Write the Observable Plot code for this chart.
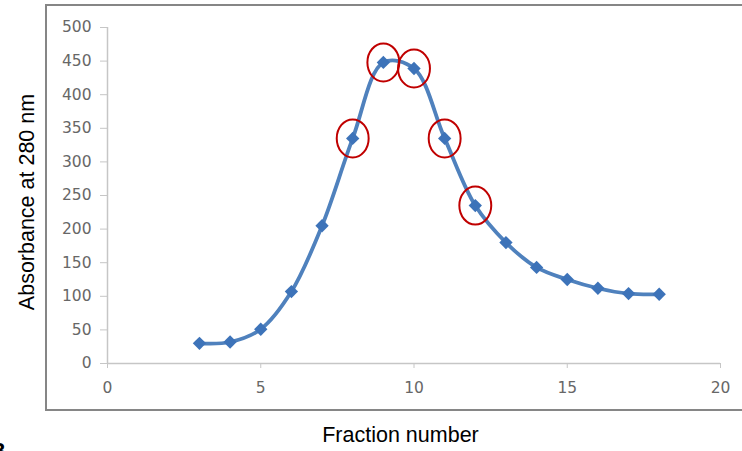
<!DOCTYPE html>
<html><head><meta charset="utf-8">
<script src="https://cdn.jsdelivr.net/npm/d3@7"></script>
<script src="https://cdn.jsdelivr.net/npm/@observablehq/plot@0.6"></script>
<style>
body{margin:0;background:#fff}
#chart{position:relative;width:742px;height:451px;overflow:hidden}
</style>
</head><body><div id="chart"></div>
<script>
const fractions = [3,4,5,6,7,8,9,10,11,12,13,14,15,16,17,18];
const absorbance = [30,32,51,107,205,335,448,439,335,235,180,143,125,112,104,103];
const circledFractions = [8,9,10,11,12];
const xTicks = [0,5,10,15,20];
const yTicks = [0,50,100,150,200,250,300,350,400,450,500];
const xTitle = "Fraction number";
const yTitle = "Absorbance at 280 nm";
const panelLabel = "B";

const data = fractions.map((f, i) => ({f, a: absorbance[i], circled: circledFractions.includes(f)}));

// ellipse symbol for the highlight rings
const ellipse = {
  draw(context, size) {
    const ry = Math.sqrt(size / Math.PI);
    const rx = ry * 0.84;
    const k = 0.5523;
    context.moveTo(rx, 0);
    context.bezierCurveTo(rx, ry * k, rx * k, ry, 0, ry);
    context.bezierCurveTo(-rx * k, ry, -rx, ry * k, -rx, 0);
    context.bezierCurveTo(-rx, -ry * k, -rx * k, -ry, 0, -ry);
    context.bezierCurveTo(rx * k, -ry, rx, -ry * k, rx, 0);
    context.closePath();
  }
};

const axisStroke = "#c6c6c6";
const tickText = "#676767";

const plot = Plot.plot({
  width: 742,
  height: 451,
  marginLeft: 107,
  marginRight: 22,
  marginTop: 27,
  marginBottom: 88,
  x: {domain: [0, 20]},
  y: {domain: [0, 500]},
  style: {fontFamily: "DejaVu Sans", fontSize: "15.5px", background: "transparent", overflow: "visible"},
  marks: [
    Plot.ruleX([0], {stroke: axisStroke, strokeWidth: 1.5}),
    Plot.ruleY([0], {stroke: axisStroke, strokeWidth: 1.5}),
    Plot.axisX({ticks: xTicks, tickSize: 5, tickPadding: 13, stroke: axisStroke, fill: tickText, label: null, tickFormat: d => String(d)}),
    Plot.axisY({ticks: yTicks, tickSize: 7, tickPadding: 9, stroke: axisStroke, fill: tickText, label: null, tickFormat: d => String(d)}),
    Plot.line(data, {x: "f", y: "a", curve: "catmull-rom", stroke: "#4f81bd", strokeWidth: 3.8}),
    Plot.dot(data, {x: "f", y: "a", symbol: "diamond2", r: 6, fill: "#3d73b9", stroke: "none"}),
    Plot.dot(data.filter(d => d.circled), {x: "f", y: "a", symbol: ellipse, r: 19, fill: "none", stroke: "#c00000", strokeWidth: 2})
  ]
});

const svg = d3.select(plot);
svg.insert("rect", ":first-child")
  .attr("x", 46).attr("y", 5).attr("width", 730).attr("height", 405)
  .attr("fill", "none").attr("stroke", "#868686").attr("stroke-width", 2);

svg.append("text")
  .attr("transform", "translate(34,202) rotate(-90)")
  .attr("text-anchor", "middle")
  .style("font-family", "'Liberation Sans', Arial, sans-serif")
  .style("font-size", "21.5px")
  .attr("fill", "#000")
  .text(yTitle);

svg.append("text")
  .attr("x", 400.5).attr("y", 442)
  .attr("text-anchor", "middle")
  .style("font-family", "'Liberation Sans', Arial, sans-serif")
  .style("font-size", "21.5px")
  .attr("fill", "#000")
  .text(xTitle);

svg.append("text")
  .attr("x", -2).attr("y", 458)
  .style("font-family", "'Liberation Sans', Arial, sans-serif")
  .style("font-size", "22px")
  .style("font-weight", "bold")
  .attr("fill", "#000")
  .text(panelLabel);

document.getElementById("chart").appendChild(plot);
</script>
</body></html>
